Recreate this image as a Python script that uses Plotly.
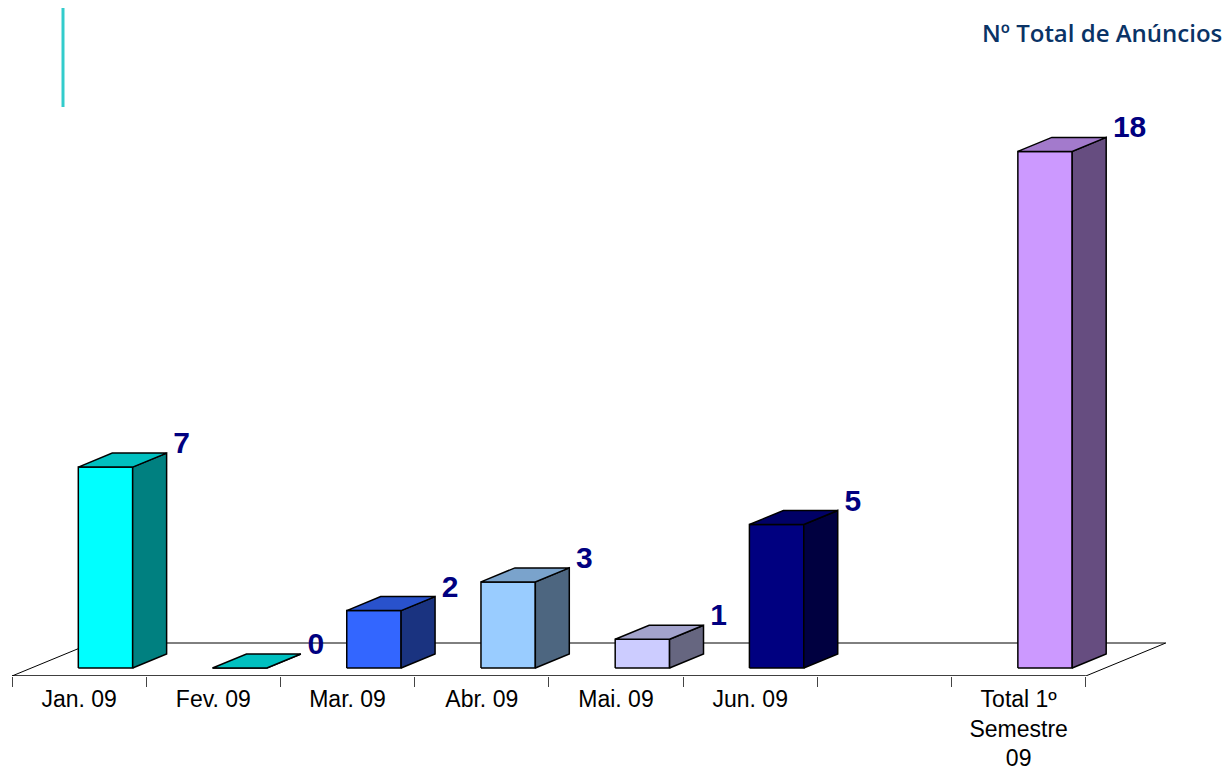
import plotly.graph_objects as go

# ---- data ----
categories = ["Jan. 09", "Fev. 09", "Mar. 09", "Abr. 09", "Mai. 09", "Jun. 09", "",
              "Total 1º<br>Semestre<br>09"]
values = [7, 0, 2, 3, 1, 5, None, 18]
front_colors = ["#00FFFF", "#00FFFF", "#3366FF", "#99CCFF", "#CCCCFF", "#000080", None, "#CC99FF"]
side_colors = ["#008080", "#008080", "#1A3380", "#4D6680", "#666680", "#000040", None, "#664D80"]
top_colors = ["#00C0C0", "#00C0C0", "#2952CC", "#7AA3CC", "#A3A3CC", "#000066", None, "#A37ACC"]
title_text = "Nº Total de Anúncios"

# ---- pseudo-3D geometry (style constants, in axis units) ----
BAR_OFF, BAR_W = 0.494, 0.405
DX, DY = 0.253, 0.488
FLOOR_FRONT, FLOOR_BACK, FLOOR_DX = -0.279, 0.871, 0.596
LABEL_LIFT, LABEL_DX = 0.26, 0.05
n = len(categories)

fig = go.Figure()
thin = dict(color="black", width=1)

# floor / walls
fig.add_trace(go.Scatter(x=[FLOOR_DX, n + FLOOR_DX], y=[FLOOR_BACK, FLOOR_BACK],
                         mode="lines", line=thin, hoverinfo="skip"))
fig.add_trace(go.Scatter(x=[0, FLOOR_DX, None, n, n + FLOOR_DX],
                         y=[FLOOR_FRONT, FLOOR_BACK, None, FLOOR_FRONT, FLOOR_BACK],
                         mode="lines", line=thin, hoverinfo="skip"))
fig.add_trace(go.Scatter(x=[0, n], y=[FLOOR_FRONT, FLOOR_FRONT],
                         mode="lines", line=dict(color="black", width=1.5), hoverinfo="skip"))

edge = dict(color="black", width=1.5)
lab_x, lab_y, lab_t = [], [], []
for i, v in enumerate(values):
    if v is None:
        continue
    x0 = i + BAR_OFF
    x1 = x0 + BAR_W
    # front face
    fig.add_trace(go.Scatter(x=[x0, x1, x1, x0, x0], y=[0, 0, v, v, 0], fill="toself",
                             fillcolor=front_colors[i], mode="lines", line=edge, hoverinfo="skip"))
    # side face
    fig.add_trace(go.Scatter(x=[x1, x1 + DX, x1 + DX, x1, x1], y=[0, DY, v + DY, v, 0],
                             fill="toself", fillcolor=side_colors[i], mode="lines", line=edge,
                             hoverinfo="skip"))
    # top face
    fig.add_trace(go.Scatter(x=[x0, x1, x1 + DX, x0 + DX, x0], y=[v, v, v + DY, v + DY, v],
                             fill="toself", fillcolor=top_colors[i], mode="lines", line=edge,
                             hoverinfo="skip"))
    lab_x.append(x1 + DX + LABEL_DX)
    lab_y.append(v + DY + LABEL_LIFT)
    lab_t.append(str(v))

fig.add_trace(go.Scatter(x=lab_x, y=lab_y, text=lab_t, mode="text", textposition="middle right",
                         textfont=dict(family="Liberation Sans, Arial", size=30, color="#000080",
                                       weight="bold"),
                         hoverinfo="skip"))

# the page body has an 8px margin on every side: size the figure so nothing overflows
OFF = 8
W, H = 1231 - 2 * OFF, 779 - 2 * OFF
ml, mt = 12 - OFF, 60 - OFF
mr = W - (1220 - OFF)
mb = H - (676 - OFF)
pw, ph = W - ml - mr, H - mt - mb

def px_to_paper(px, py):
    return (px - OFF - ml) / pw, (H - mb - (py - OFF)) / ph

# decorative cyan bar at top-left
lx, ly0 = px_to_paper(63, 0)
_, ly1 = px_to_paper(63, 107)
fig.add_shape(type="line", xref="paper", yref="paper", x0=lx, x1=lx, y0=ly0, y1=ly1,
              line=dict(color="#33CCCC", width=3))

tx, ty = px_to_paper(1223, 32)
fig.add_annotation(text=title_text, xref="paper", yref="paper", x=tx, y=ty,
                   xanchor="right", yanchor="middle", showarrow=False, borderpad=0,
                   font=dict(family="Open Sans", size=24, color="#0A3366", weight=600))

fig.update_layout(
    width=W, height=H, autosize=False,
    margin=dict(l=ml, r=mr, t=mt, b=mb, autoexpand=False),
    paper_bgcolor="white", plot_bgcolor="white",
    showlegend=False,
    xaxis=dict(range=[0, 9], showgrid=False, zeroline=False, showline=False, automargin=False,
               tickmode="array", tickvals=[i + 0.5 for i in range(n)], ticktext=categories,
               ticks="outside", ticklen=2, tickcolor="rgba(0,0,0,0)",
               tickfont=dict(family="Liberation Sans, Arial", size=23, color="black"),
               minor=dict(tickmode="array", tickvals=list(range(n + 1)), ticks="outside",
                          ticklen=10, tickwidth=1, tickcolor="#444444", showgrid=False),
               fixedrange=True),
    yaxis=dict(range=[FLOOR_FRONT, FLOOR_FRONT + ph / 28.7], visible=False, automargin=False,
               fixedrange=True),
)

fig.write_html("out.html")
